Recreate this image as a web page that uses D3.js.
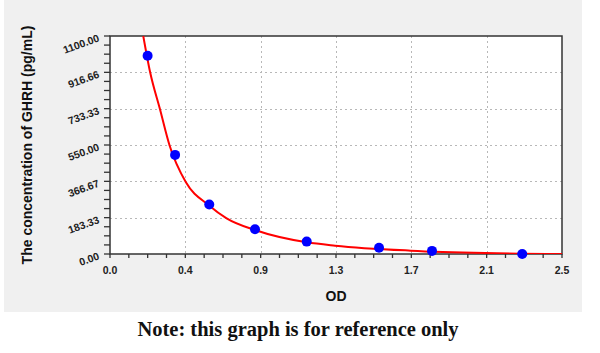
<!DOCTYPE html>
<html lang="en">
<head>
  <meta charset="UTF-8">
  <title>GHRH standard curve</title>
  <style>
    body { margin: 0; background: #fff; }
    svg { display: block; }
    .tick-label { font-family: Arial, "Liberation Sans", sans-serif; font-weight: bold; font-size: 10.5px; fill: #222; }
    .axis-title { font-family: Arial, "Liberation Sans", sans-serif; font-weight: bold; font-size: 14px; fill: #111; }
    .note { font-family: "Liberation Serif", serif; font-weight: bold; font-size: 20.5px; fill: #111; }
  </style>
  <script src="https://d3js.org/d3.v7.min.js"></script>
</head>
<body>
  <svg id="chart"></svg>
  <script>
    // measured standards
    const odValues = [0.208, 0.36, 0.549, 0.802, 1.088, 1.488, 1.781, 2.28];
    const concValues = [1000, 500, 250, 125, 62.5, 31.25, 15.6, 0];

    // fitted curve
    const curveOD = [0.184, 0.222, 0.2765, 0.33, 0.419, 0.548, 0.645, 0.802, 1.088, 1.245, 1.663, 2.076, 2.5];
    const curveConc = [1100, 916.7, 730, 546, 363, 245, 180, 121, 59, 42, 17, 5, 0];

    const xTicks = [0, 2.5 / 6, 5 / 6, 1.25, 5 / 3, 12.5 / 6, 2.5];
    const xTickLabels = ['0.0', '0.4', '0.9', '1.3', '1.7', '2.1', '2.5'];
    const yTicks = [0, 183.33, 366.67, 550, 733.33, 916.66, 1100];
    const yTickLabels = ['0.00', '183.33', '366.67', '550.00', '733.33', '916.66', '1100.00'];

    const W = 600, H = 353;
    const plot = { left: 110, right: 562, top: 36, bottom: 254 };

    const svg = d3.select('#chart').attr('width', W).attr('height', H);

    svg.append('rect')
      .attr('x', 4).attr('y', 0)
      .attr('width', 578).attr('height', 312)
      .attr('fill', '#f0f0f0');

    svg.append('rect')
      .attr('x', plot.left).attr('y', plot.top)
      .attr('width', plot.right - plot.left).attr('height', plot.bottom - plot.top)
      .attr('fill', '#fff');

    const x = d3.scaleLinear().domain([0, 2.5]).range([plot.left, plot.right]);
    const y = d3.scaleLinear().domain([0, 1100]).range([plot.bottom, plot.top]);

    // grid
    const grid = svg.append('g')
      .attr('stroke', '#b8b8b8')
      .attr('stroke-width', 1)
      .attr('stroke-dasharray', '2,3');
    grid.selectAll('line.vx')
      .data(xTicks.slice(1, -1))
      .enter().append('line')
      .attr('x1', d => Math.round(x(d)) + 0.5).attr('x2', d => Math.round(x(d)) + 0.5)
      .attr('y1', plot.top).attr('y2', plot.bottom);
    grid.selectAll('line.hy')
      .data(yTicks.slice(1, -1))
      .enter().append('line')
      .attr('y1', d => Math.round(y(d)) + 0.5).attr('y2', d => Math.round(y(d)) + 0.5)
      .attr('x1', plot.left).attr('x2', plot.right);

    // ticks (major + 3 minor per interval)
    const ticks = svg.append('g').attr('stroke', '#333').attr('stroke-width', 1.3);
    const xMinor = [], yMinor = [];
    for (let i = 0; i < 6; i++) {
      for (let k = 0; k < 4; k++) {
        xMinor.push(xTicks[i] + (xTicks[i + 1] - xTicks[i]) * k / 4);
        yMinor.push(yTicks[i] + (yTicks[i + 1] - yTicks[i]) * k / 4);
      }
    }
    xMinor.push(2.5); yMinor.push(1100);
    ticks.selectAll('line.xt')
      .data(xMinor)
      .enter().append('line')
      .attr('x1', d => x(d)).attr('x2', d => x(d))
      .attr('y1', plot.bottom).attr('y2', plot.bottom + 4);
    ticks.selectAll('line.yt')
      .data(yMinor)
      .enter().append('line')
      .attr('y1', d => y(d)).attr('y2', d => y(d))
      .attr('x1', plot.left - 6).attr('x2', plot.left);

    // border
    svg.append('rect')
      .attr('x', plot.left).attr('y', plot.top)
      .attr('width', plot.right - plot.left).attr('height', plot.bottom - plot.top)
      .attr('fill', 'none')
      .attr('stroke', '#333')
      .attr('stroke-width', 1.5);

    // tick labels
    svg.selectAll('text.xl')
      .data(xTicks)
      .enter().append('text')
      .attr('class', 'tick-label')
      .attr('x', d => x(d))
      .attr('y', 274)
      .attr('text-anchor', 'middle')
      .text((d, i) => xTickLabels[i]);

    svg.selectAll('text.yl')
      .data(yTicks)
      .enter().append('text')
      .attr('class', 'tick-label')
      .attr('text-anchor', 'end')
      .attr('transform', d => `translate(100,${y(d) + 5}) rotate(-20)`)
      .text((d, i) => yTickLabels[i]);

    // axis titles
    svg.append('text')
      .attr('class', 'axis-title')
      .attr('x', x(1.25))
      .attr('y', 301)
      .attr('text-anchor', 'middle')
      .text('OD');

    svg.append('text')
      .attr('class', 'axis-title')
      .attr('text-anchor', 'middle')
      .attr('transform', `translate(32,${(plot.top + plot.bottom) / 2}) rotate(-90)`)
      .text('The concentration of GHRH (pg/mL)');

    // curve
    svg.append('clipPath').attr('id', 'clip')
      .append('rect')
      .attr('x', plot.left).attr('y', plot.top)
      .attr('width', plot.right - plot.left).attr('height', plot.bottom - plot.top);

    const line = d3.line()
      .x((d, i) => x(curveOD[i]))
      .y(d => y(d))
      .curve(d3.curveMonotoneX);

    svg.append('path')
      .datum(curveConc)
      .attr('clip-path', 'url(#clip)')
      .attr('fill', 'none')
      .attr('stroke', '#ff0000')
      .attr('stroke-width', 2)
      .attr('d', line);

    // points
    svg.selectAll('circle.pt')
      .data(concValues)
      .enter().append('circle')
      .attr('cx', (d, i) => x(odValues[i]))
      .attr('cy', d => y(d))
      .attr('r', 5)
      .attr('fill', '#0000ff');

    svg.append('text')
      .attr('class', 'note')
      .attr('x', 298)
      .attr('y', 336)
      .attr('text-anchor', 'middle')
      .text('Note: this graph is for reference only');
  </script>
</body>
</html>
